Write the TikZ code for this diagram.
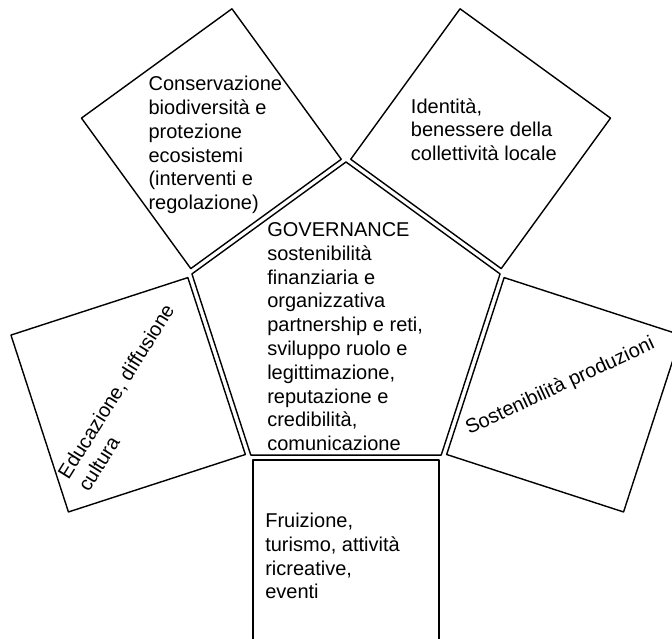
\documentclass[tikz,border=0pt]{standalone}
\usepackage{fontspec}
\usepackage{tikz}
\setmainfont{Liberation Sans}
\tikzstyle{every node}=[font=\fontsize{14.23}{16.9}\selectfont,inner sep=0pt,align=left]
\tikzstyle{boxline}=[line width=1pt,color=black]
\tikzstyle{boxtext}=[anchor=north west]
\begin{document}
\begin{tikzpicture}[line cap=round,line join=round,x=0.025cm,y=0.025cm]
\useasboundingbox (0,0) rectangle (672,639);
\draw [boxline] (346,477) -- (191.93,365.06) -- (250.78,183.94) -- (441.22,183.94) -- (500.07,365.06) -- cycle;
\draw [boxline] (253,178.94) -- (439,178.94) -- (439,-7.06) -- (253,-7.06) -- cycle;
\draw [boxline] (245.34,184.50) -- (187.86,361.40) -- (10.96,303.93) -- (68.44,127.03) -- cycle;
\draw [boxline] (190.79,370.41) -- (341.27,479.73) -- (231.94,630.21) -- (81.46,520.89) -- cycle;
\draw [boxline] (350.73,479.73) -- (501.21,370.41) -- (610.54,520.89) -- (460.06,630.21) -- cycle;
\draw [boxline] (446.66,184.50) -- (504.14,361.40) -- (681.04,303.93) -- (623.56,127.03) -- cycle;
\node [boxtext] (gov) at (267,416.6) {GOVERNANCE\\sostenibilità\\finanziaria e\\organizzativa\\partnership e reti,\\sviluppo ruolo e\\legittimazione,\\reputazione e\\credibilità,\\comunicazione};
\node [boxtext] (cons) at (148.3,563) {Conservazione\\biodiversità e\\protezione\\ecosistemi\\(interventi e\\regolazione)};
\node [boxtext] (ident) at (410.7,541) {Identità,\\benessere della\\collettività locale};
\node [boxtext] (fruiz) at (265,126.3) {Fruizione,\\turismo, attività\\ricreative,\\eventi};
\node [anchor=base west,rotate=58] (educ) at (68.5,158.5) {\begin{tabular}[t]{@{}l@{}}Educazione, diffusione\\cultura\end{tabular}};
\node [anchor=base west,rotate=25] (sost) at (469,204) {Sostenibilità produzioni};
\end{tikzpicture}
\end{document}
